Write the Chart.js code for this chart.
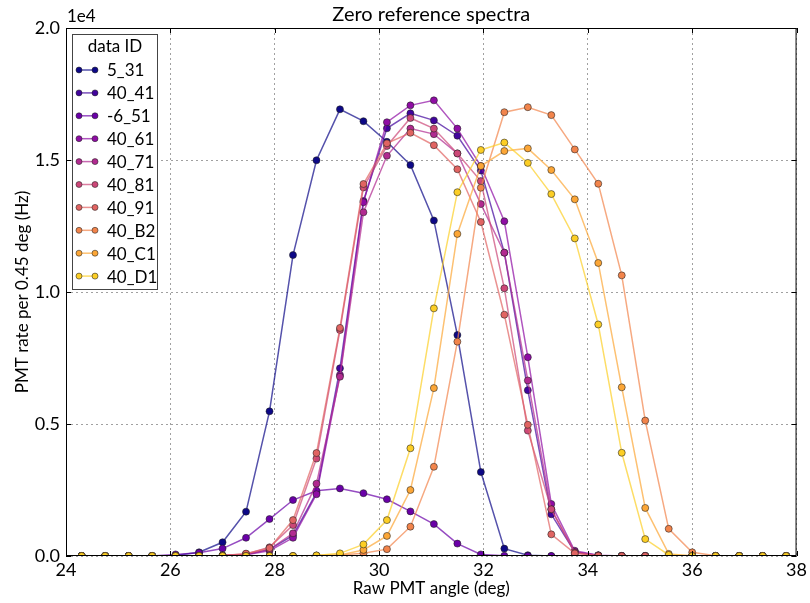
<!DOCTYPE html>
<html>
<head>
<meta charset="utf-8">
<script src="https://cdn.jsdelivr.net/npm/chart.js@4.4.1/dist/chart.umd.min.js"></script>
<style>
    html, body { margin: 0; padding: 0; background: #ffffff; }
    #wrap { width: 810px; height: 603px; }
</style>
</head>
<body>
<div id="wrap"><canvas id="spectraChart" width="810" height="603"></canvas></div>
<script>
// 角度 (deg)
const angles = [24.30, 24.75, 25.20, 25.65, 26.10, 26.55, 27.00, 27.45, 27.90, 28.35, 28.80,
    29.25, 29.70, 30.15, 30.60, 31.05, 31.50, 31.95, 32.40, 32.85, 33.30, 33.75, 34.20,
    34.65, 35.10, 35.55, 36.00, 36.45, 36.90, 37.35, 37.80];

// 各データIDのレート (Hz)
const rate5_31 = [0, 0, 0, 0, 20, 140, 520, 1680, 5480, 11400, 14990, 16920, 16470, 15690, 14810, 12710, 8370, 3180, 280, 30, 0, 0, 0, 0, 0, 0, 0, 0, 0, 0, 0];
const rate40_41 = [0, 0, 0, 0, 0, 10, 20, 60, 250, 780, 2400, 7110, 13450, 16200, 16770, 16500, 15920, 14600, 11490, 6280, 1580, 150, 20, 0, 0, 0, 0, 0, 0, 0, 0];
const rateM6_51 = [0, 0, 0, 0, 60, 120, 280, 690, 1400, 2120, 2470, 2560, 2380, 2150, 1690, 1210, 470, 60, 10, 0, 0, 0, 0, 0, 0, 0, 0, 0, 0, 0, 0];
const rate40_61 = [0, 0, 0, 0, 0, 0, 10, 50, 200, 690, 2340, 6860, 13400, 16430, 17070, 17260, 16190, 14770, 12680, 7530, 1970, 200, 30, 0, 0, 0, 0, 0, 0, 0, 0];
const rate40_71 = [0, 0, 0, 0, 0, 0, 10, 60, 250, 860, 2740, 6790, 13020, 15160, 16190, 15980, 15250, 13330, 11490, 6650, 1770, 150, 20, 0, 0, 0, 0, 0, 0, 0, 0];
const rate40_81 = [0, 0, 0, 0, 0, 0, 20, 80, 330, 1170, 3690, 8560, 13960, 15530, 16590, 16190, 15250, 14200, 10140, 4750, 1770, 120, 10, 0, 0, 0, 0, 0, 0, 0, 0];
const rate40_91 = [0, 0, 0, 0, 0, 0, 20, 90, 300, 1360, 3900, 8640, 14090, 15630, 16030, 15560, 14650, 12650, 9140, 4970, 820, 100, 10, 0, 0, 0, 0, 0, 0, 0, 0];
const rate40_B2 = [0, 0, 0, 0, 0, 0, 0, 0, 0, 0, 20, 40, 100, 260, 1110, 3380, 8120, 13950, 16810, 17000, 16700, 15400, 14100, 10630, 5130, 1030, 140, 10, 0, 0, 0];
const rate40_C1 = [0, 0, 0, 0, 0, 0, 0, 0, 0, 0, 10, 40, 230, 760, 2500, 6360, 12200, 14770, 15340, 15440, 14620, 13510, 11100, 6390, 1820, 80, 10, 0, 0, 0, 0];
const rate40_D1 = [0, 0, 0, 0, 0, 0, 0, 0, 0, 0, 20, 100, 440, 1360, 4080, 9380, 13780, 15380, 15660, 14890, 13710, 12030, 8770, 3910, 640, 40, 0, 0, 0, 0, 0];

const seriesNames = ['5_31', '40_41', '-6_51', '40_61', '40_71', '40_81', '40_91', '40_B2', '40_C1', '40_D1'];
const seriesRates = [rate5_31, rate40_41, rateM6_51, rate40_61, rate40_71, rate40_81, rate40_91, rate40_B2, rate40_C1, rate40_D1];

// 目盛り
const xTicks = [24, 26, 28, 30, 32, 34, 36, 38];
const yTicks = [0, 5000, 10000, 15000, 20000];

// plasma カラーマップ (0.0〜0.9)
const colors = ['#0d0887', '#41049d', '#6a00a8', '#8f0da4', '#b12a90', '#cc4778', '#e16462', '#f2844b', '#fca636', '#fcce25'];

const FONT = 'Lato, "DejaVu Sans", sans-serif';

function withAlpha(hex, a) {
    const n = parseInt(hex.slice(1), 16);
    return `rgba(${(n >> 16) & 255}, ${(n >> 8) & 255}, ${n & 255}, ${a})`;
}

// 枠・内向き目盛り・タイトル・凡例を描くプラグイン
const decorations = {
    id: 'decorations',
    afterDraw(chart) {
        const ctx = chart.ctx;
        const area = chart.chartArea;
        const xs = chart.scales.x;
        const ys = chart.scales.y;

        ctx.save();
        // 枠
        ctx.strokeStyle = '#000';
        ctx.lineWidth = 1;
        ctx.strokeRect(area.left + 0.5, area.top + 0.5, area.right - area.left - 1, area.bottom - area.top - 1);

        // 内向き目盛り
        ctx.beginPath();
        xTicks.forEach(v => {
            const px = Math.round(xs.getPixelForValue(v)) + 0.5;
            ctx.moveTo(px, area.bottom); ctx.lineTo(px, area.bottom - 5);
            ctx.moveTo(px, area.top); ctx.lineTo(px, area.top + 5);
        });
        yTicks.forEach(v => {
            const py = Math.round(ys.getPixelForValue(v)) + 0.5;
            ctx.moveTo(area.left, py); ctx.lineTo(area.left + 5, py);
            ctx.moveTo(area.right, py); ctx.lineTo(area.right - 5, py);
        });
        ctx.stroke();

        // タイトルとオフセット表記
        ctx.fillStyle = '#000';
        ctx.font = `20px ${FONT}`;
        ctx.textAlign = 'center';
        ctx.textBaseline = 'middle';
        ctx.fillText('Zero reference spectra', (area.left + area.right) / 2, 15);
        ctx.font = `17px ${FONT}`;
        ctx.textAlign = 'left';
        ctx.fillText('1e4', area.left + 1, 17);

        // 凡例
        const box = { x: 72.5, y: 34.5, w: 85, h: 255 };
        ctx.fillStyle = '#fff';
        ctx.fillRect(box.x, box.y, box.w, box.h);
        ctx.strokeStyle = '#444';
        ctx.strokeRect(box.x, box.y, box.w, box.h);
        ctx.fillStyle = '#000';
        ctx.textAlign = 'center';
        ctx.font = `17px ${FONT}`;
        ctx.fillText('data ID', box.x + box.w / 2, 47);
        chart.data.datasets.forEach((ds, i) => {
            const y = 70 + i * 22.9;
            ctx.strokeStyle = ds.borderColor;
            ctx.lineWidth = 1.5;
            ctx.beginPath();
            ctx.moveTo(79, y); ctx.lineTo(95, y);
            ctx.stroke();
            [79, 95].forEach(mx => {
                ctx.beginPath();
                ctx.arc(mx, y, 3, 0, Math.PI * 2);
                ctx.fillStyle = ds.pointBackgroundColor;
                ctx.fill();
                ctx.lineWidth = 0.8;
                ctx.strokeStyle = 'rgba(30, 30, 30, 0.7)';
                ctx.stroke();
            });
            ctx.fillStyle = '#000';
            ctx.textAlign = 'left';
            ctx.fillText(ds.label, 107, y + 1);
        });
        ctx.restore();
    }
};

const datasets = seriesNames.map((name, i) => ({
    label: name,
    data: angles.map((a, k) => ({ x: a, y: seriesRates[i][k] })),
    borderColor: withAlpha(colors[i], 0.7),
    borderWidth: 1.5,
    pointBackgroundColor: colors[i],
    pointBorderColor: 'rgba(30, 30, 30, 0.7)',
    pointBorderWidth: 0.8,
    pointRadius: 3.5,
    tension: 0,
    order: seriesNames.length - i
}));

new Chart(document.getElementById('spectraChart').getContext('2d'), {
    type: 'line',
    data: { datasets },
    plugins: [decorations],
    options: {
        responsive: false,
        animation: false,
        layout: { padding: { top: 28, right: 11, left: 0, bottom: 0 } },
        plugins: {
            legend: { display: false },
            title: { display: false },
            tooltip: { enabled: false }
        },
        scales: {
            x: {
                type: 'linear',
                min: 24,
                max: 38,
                afterBuildTicks: s => { s.ticks = xTicks.map(v => ({ value: v })); },
                afterFit: s => { s.height = 47; },
                ticks: { color: '#000', font: { family: FONT, size: 18 }, padding: 3, maxRotation: 0 },
                grid: { color: '#a0a0a0', lineWidth: 1, drawTicks: false },
                border: { display: false, dash: [2, 3] },
                title: { display: true, text: 'Raw PMT angle (deg)', color: '#000', font: { family: FONT, size: 17 }, padding: { top: 0, bottom: 4 } }
            },
            y: {
                type: 'linear',
                min: 0,
                max: 20000,
                afterBuildTicks: s => { s.ticks = yTicks.map(v => ({ value: v })); },
                afterFit: s => { s.width = 66; },
                ticks: { color: '#000', font: { family: FONT, size: 18 }, padding: 6, callback: v => (v / 1e4).toFixed(1) },
                grid: { color: '#a0a0a0', lineWidth: 1, drawTicks: false },
                border: { display: false, dash: [2, 3] },
                title: { display: true, text: 'PMT rate per 0.45 deg (Hz)', color: '#000', font: { family: FONT, size: 17 }, padding: { top: 12, bottom: 0 } }
            }
        }
    }
});
</script>
</body>
</html>
